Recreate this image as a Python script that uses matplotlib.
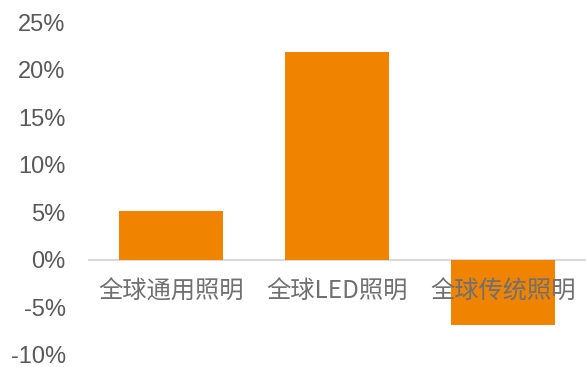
import matplotlib.pyplot as plt
from matplotlib.ticker import FuncFormatter

plt.rcParams['font.family'] = ['Liberation Sans', 'Noto Sans CJK SC', 'DejaVu Sans']

categories = ["全球通用照明", "全球LED照明", "全球传统照明"]
growth = [5.15, 21.9, -6.9]  # [%]
y_ticks = [-10, -5, 0, 5, 10, 15, 20, 25]

BAR_COLOR = '#F08300'
TEXT_COLOR = '#595959'


def main():
    fig = plt.figure(figsize=(5.86, 3.67), dpi=100)
    ax = fig.add_axes([0.150, 0.033, 0.850, 0.907])

    x = list(range(len(categories)))
    ax.bar(x, growth, width=0.63, color=BAR_COLOR, zorder=2)
    ax.axhline(0, color='#D9D9D9', linewidth=1.5, zorder=1)

    ax.set_xlim(-0.5, len(categories) - 0.5)
    ax.set_ylim(y_ticks[0], y_ticks[-1])
    ax.set_yticks(y_ticks)
    ax.yaxis.set_major_formatter(FuncFormatter(lambda v, p: f"{v:.0f}%"))
    ax.tick_params(axis='y', length=0, labelsize=17, labelcolor=TEXT_COLOR, pad=16)
    ax.set_xticks([])
    for s in ax.spines.values():
        s.set_visible(False)

    # category labels sit just under the zero line
    for i, name in enumerate(categories):
        ax.annotate(name, xy=(i, 0), xytext=(0, -23), textcoords='offset points',
                    ha='center', va='center', fontsize=17.5, color='#707070',
                    family=['Noto Sans CJK SC', 'DejaVu Sans'], zorder=3)

    fig.savefig('out.png', dpi=100)


if __name__ == "__main__":
    main()
